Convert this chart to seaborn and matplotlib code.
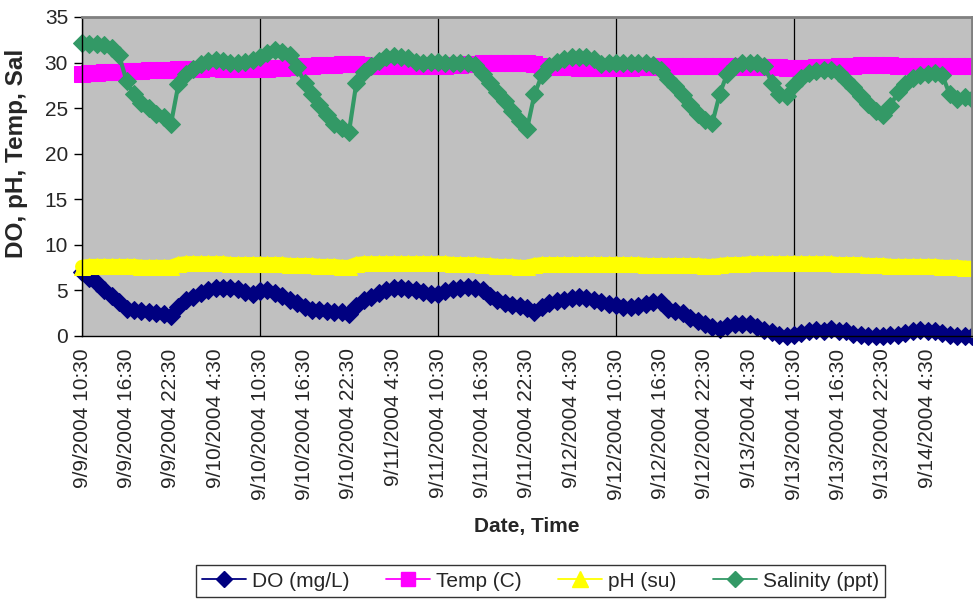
import numpy as np
import pandas as pd
import matplotlib
matplotlib.use("Agg")
import matplotlib.pyplot as plt
import seaborn as sns
from matplotlib.lines import Line2D

# ---------------- data (hourly readings, 9/9/2004 10:30 -> 9/14/2004 10:30) ----------------
hours = list(range(121))

do_mgl = [7.0, 6.4, 5.8, 5.1, 4.4, 3.7, 3.0, 2.8, 2.7, 2.6, 2.5, 2.4, 2.2, 3.2, 3.9, 4.3, 4.7, 5.1, 5.3, 5.3, 5.3, 5.2, 4.8, 4.6,
          4.9, 5.0, 4.7, 4.4, 4.0, 3.6, 3.2, 2.9, 2.8, 2.7, 2.6, 2.6, 2.4, 3.3, 3.9, 4.3, 4.7, 5.0, 5.3, 5.3, 5.2, 5.0, 4.8, 4.6,
          4.6, 4.9, 5.2, 5.3, 5.4, 5.3, 5.0, 4.4, 4.0, 3.6, 3.4, 3.3, 3.1, 2.6, 3.2, 3.6, 3.8, 4.0, 4.2, 4.3, 4.2, 4.0, 3.7, 3.5,
          3.4, 3.2, 3.2, 3.3, 3.5, 3.7, 3.7, 3.0, 2.7, 2.5, 2.0, 1.7, 1.3, 1.0, 0.8, 1.1, 1.3, 1.3, 1.3, 1.0, 0.7, 0.4, 0.1, 0.0,
          0.1, 0.3, 0.6, 0.7, 0.6, 0.8, 0.6, 0.5, 0.2, 0.1, 0.0, 0.0, 0.0, 0.1, 0.1, 0.3, 0.6, 0.7, 0.6, 0.5, 0.3, 0.1, 0.0, 0.0, 0.0]

temp_c = [28.8, 28.9, 28.9, 29.0, 29.0, 29.0, 29.1, 29.1, 29.1, 29.2, 29.2, 29.2, 29.2, 29.3, 29.3, 29.3, 29.3, 29.4, 29.4, 29.3, 29.3, 29.3, 29.3, 29.3,
          29.3, 29.3, 29.4, 29.4, 29.5, 29.5, 29.6, 29.6, 29.7, 29.7, 29.7, 29.8, 29.8, 29.8, 29.7, 29.6, 29.6, 29.6, 29.6, 29.6, 29.6, 29.6, 29.6, 29.6,
          29.6, 29.6, 29.7, 29.7, 29.8, 29.8, 29.9, 29.9, 30.0, 30.0, 30.0, 30.0, 30.0, 29.8, 29.6, 29.5, 29.5, 29.5, 29.5, 29.4, 29.4, 29.4, 29.4, 29.4,
          29.4, 29.4, 29.4, 29.5, 29.5, 29.5, 29.6, 29.6, 29.6, 29.6, 29.6, 29.6, 29.6, 29.6, 29.6, 29.6, 29.6, 29.5, 29.5, 29.5, 29.5, 29.5, 29.5, 29.4,
          29.4, 29.4, 29.4, 29.5, 29.5, 29.5, 29.6, 29.6, 29.6, 29.7, 29.7, 29.7, 29.7, 29.7, 29.6, 29.6, 29.6, 29.6, 29.6, 29.6, 29.6, 29.6, 29.6, 29.6, 29.6]

ph_su = [7.6, 7.7, 7.7, 7.7, 7.7, 7.7, 7.7, 7.7, 7.6, 7.6, 7.6, 7.6, 7.6, 7.9, 8.0, 8.0, 8.0, 8.0, 8.0, 8.0, 7.9, 7.9, 7.9, 7.9,
         7.9, 7.9, 7.9, 7.9, 7.8, 7.8, 7.8, 7.8, 7.7, 7.7, 7.7, 7.6, 7.6, 7.9, 8.0, 8.0, 8.0, 8.0, 8.0, 8.0, 8.0, 8.0, 8.0, 8.0,
         8.0, 8.0, 7.9, 7.9, 7.9, 7.9, 7.8, 7.8, 7.7, 7.7, 7.7, 7.6, 7.6, 7.8, 7.9, 7.9, 7.9, 7.9, 7.9, 7.9, 7.9, 7.9, 7.9, 7.9,
         7.9, 7.9, 7.9, 7.9, 7.8, 7.8, 7.8, 7.8, 7.8, 7.8, 7.8, 7.8, 7.7, 7.7, 7.8, 7.9, 7.9, 7.9, 8.0, 8.0, 8.0, 8.0, 8.0, 8.0,
         8.0, 8.0, 8.0, 8.0, 8.0, 8.0, 7.9, 7.9, 7.9, 7.9, 7.8, 7.8, 7.8, 7.7, 7.7, 7.7, 7.7, 7.7, 7.7, 7.7, 7.6, 7.6, 7.6, 7.5, 7.5]

salinity_ppt = [32.2, 32.0, 32.0, 31.9, 31.6, 30.8, 28.0, 26.5, 25.6, 25.0, 24.4, 24.0, 23.3, 27.6, 28.8, 29.3, 29.8, 30.2, 30.3, 30.2, 30.0, 30.0, 30.1, 30.3,
                30.6, 31.1, 31.4, 31.2, 30.8, 29.5, 27.8, 26.6, 25.3, 24.2, 23.3, 22.8, 22.4, 27.8, 29.0, 29.6, 30.2, 30.6, 30.7, 30.6, 30.5, 30.1, 30.0, 30.1,
                30.1, 30.0, 30.0, 30.0, 29.9, 29.7, 28.8, 27.8, 26.8, 25.8, 24.7, 23.6, 22.7, 26.5, 28.6, 29.6, 30.1, 30.4, 30.6, 30.6, 30.6, 30.4, 29.8, 29.9,
                30.0, 30.0, 29.9, 29.9, 29.9, 29.7, 29.2, 28.2, 27.4, 26.4, 25.3, 24.4, 23.7, 23.4, 26.6, 28.8, 29.6, 29.9, 30.0, 30.0, 29.6, 27.8, 26.6, 26.3,
                27.5, 28.3, 28.9, 29.1, 29.2, 29.2, 28.9, 28.1, 27.3, 26.3, 25.4, 24.7, 24.2, 25.2, 26.8, 27.6, 28.3, 28.6, 28.8, 28.9, 28.6, 26.5, 26.0, 26.2, 26.0]

tick_labels = ["9/9/2004 10:30", "9/9/2004 16:30", "9/9/2004 22:30", "9/10/2004 4:30",
               "9/10/2004 10:30", "9/10/2004 16:30", "9/10/2004 22:30", "9/11/2004 4:30",
               "9/11/2004 10:30", "9/11/2004 16:30", "9/11/2004 22:30", "9/12/2004 4:30",
               "9/12/2004 10:30", "9/12/2004 16:30", "9/12/2004 22:30", "9/13/2004 4:30",
               "9/13/2004 10:30", "9/13/2004 16:30", "9/13/2004 22:30", "9/14/2004 4:30"]
tick_hours = [6 * i for i in range(len(tick_labels))]
day_hours = [0, 24, 48, 72, 96, 120]

series_names = ["DO (mg/L)", "Temp (C)", "pH (su)", "Salinity (ppt)"]

df = pd.DataFrame({"hour": hours, "DO (mg/L)": do_mgl, "Temp (C)": temp_c,
                   "pH (su)": ph_su, "Salinity (ppt)": salinity_ppt})

# ---------------- styling ----------------
sns.set_style("white")
plt.rcParams["font.family"] = ["Liberation Sans", "DejaVu Sans"]

styles = {
    "DO (mg/L)": dict(color="#000080", marker="D", ms=9.0, lw=4.5),
    "Temp (C)": dict(color="#FF00FF", marker="s", ms=12.0, lw=9.0),
    "pH (su)": dict(color="#FFFF00", marker="^", ms=11.0, lw=10.0),
    "Salinity (ppt)": dict(color="#339966", marker="D", ms=9.0, lw=3.0),
}

fig = plt.figure(figsize=(9.73, 6.01), dpi=100)
ax = fig.add_axes([82 / 973, 1 - 336 / 601, (972 - 82) / 973, (336 - 17) / 601])
ax.set_facecolor("#C0C0C0")

for name in series_names:
    st = styles[name]
    sns.lineplot(data=df, x="hour", y=name, ax=ax, color=st["color"], marker=st["marker"],
                 markersize=st["ms"], markeredgecolor=st["color"], markerfacecolor=st["color"],
                 linewidth=st["lw"], sort=False, clip_on=False, legend=False)

# legend handles (thin line + marker, as in the reference legend)
leg_ms = {"DO (mg/L)": 8.5, "Temp (C)": 10.0, "pH (su)": 11.0, "Salinity (ppt)": 8.5}
handles = [Line2D([], [], color=styles[n]["color"], marker=styles[n]["marker"],
                  markersize=leg_ms[n], markeredgecolor=styles[n]["color"], linewidth=1.3)
           for n in series_names]

ax.set_xlim(0, 120)
ax.set_ylim(0, 35)
ax.set_yticks(range(0, 36, 5))

ax.set_xticks(tick_hours)
ax.set_xticklabels(tick_labels, rotation=90, fontsize=15)
ax.xaxis.remove_overlapping_locs = False
ax.set_xticks(day_hours, minor=True)
ax.tick_params(axis="x", which="major", length=0, pad=9)
ax.tick_params(axis="x", which="minor", length=6, width=1, color="black", direction="out")
ax.tick_params(axis="y", which="major", length=6, width=1, color="black", direction="out",
               labelsize=15, pad=4, left=True)
ax.grid(False)
ax.grid(True, which="minor", axis="x", color="black", linewidth=0.9)
ax.set_axisbelow(True)

for s in ["left", "bottom"]:
    ax.spines[s].set_color("black")
    ax.spines[s].set_linewidth(1)
for s in ["top", "right"]:
    ax.spines[s].set_color("#808080")
    ax.spines[s].set_linewidth(2)

ax.set_xlabel("Date, Time", fontsize=15, fontweight="bold", labelpad=12)
ax.set_ylabel("DO, pH, Temp, Sal", fontsize=17.5, fontweight="bold")
ax.yaxis.set_label_coords(-0.061, 0.574)

leg = fig.legend(handles, series_names, loc="center", bbox_to_anchor=(0.5555, 0.033), ncol=4,
                 frameon=True, fancybox=False, shadow=False, fontsize=15, handlelength=2.1,
                 columnspacing=1.75, handletextpad=0.3, borderpad=0.3, borderaxespad=0)
leg.get_frame().set_edgecolor("black")
leg.get_frame().set_linewidth(1)

fig.savefig("out.png", dpi=100, facecolor="white")
